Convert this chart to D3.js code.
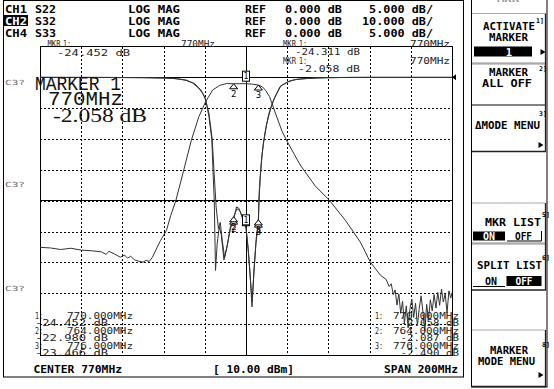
<!DOCTYPE html>
<html><head><meta charset="utf-8">
<script src="https://cdn.jsdelivr.net/npm/d3@7"></script>
<style>body{margin:0;background:#fff}svg{display:block}</style>
</head><body>
<svg id="c" width="554" height="389"></svg>
<script>
// ---------------- DATA ----------------
const headerChannels = ["CH1", "CH2", "CH4"];
const headerParams   = ["S22", "S32", "S33"];
const headerFormats  = ["LOG MAG", "LOG MAG", "LOG MAG"];
const headerRefs     = ["0.000 dB", "0.000 dB", "0.000 dB"];
const headerScales   = ["5.000 dB/", "10.000 dB/", "5.000 dB/"];

const gridFreqs = [670, 690, 710, 730, 750, 770, 790, 810, 830, 850, 870];
const gridDb5   = [5, 0, -5, -10, -15, -20, -25, -30, -35, -40, -45];

// S32 transmission (10 dB/div)
const s32Freq = [670,675,680,685,690,695,700,702,703.5,706,709,711,712.5,714,716,718,720,
  721.5,723,724.5,726,728.5,731.4,733.5,736,739.8,743.5,747.1,750.4,753.8,757.3,760.7,764,767,770,773,776,
  778,779.5,781.4,784.6,787.5,790,796.3,803.6,810.4,818.2,825.5,830.3,835.2,838,839.5,840.5,
  841.5,842.4,843.3,844.2,845.1,846,846.9,847.8,848.7,849.6,850.5,851.4,852.3,853.2,854.1,855,855.9,856.8,
  857.7,858.6,859.5,860.4,861.3,862.2,863.1,864,864.9,865.8,866.7,867.6,868.5,869.4,870];
const s32Db = [-55.1,-55.3,-55.8,-55.4,-56.0,-56.2,-56.6,-57.4,-56.4,-57.2,-58.3,-57.6,-58.6,-58.0,-59.2,-59.6,-59.9,
  -59.3,-59.7,-58.4,-56.3,-52.9,-49.6,-44.7,-39.8,-30,-20.3,-12.8,-7.9,-4.1,-2.6,-2.0,-2.087,-2.05,-2.058,-2.2,-2.49,
  -3.1,-4.2,-6.2,-12.2,-17.5,-20.8,-28.4,-35.2,-39.8,-46.3,-53.4,-59.8,-64.1,-65.5,-67.8,-66.9,
  -70.5,-68.9,-73.8,-70.2,-76.5,-72.6,-79.8,-74.1,-81.2,-75.0,-71.9,-77.8,-73.2,-80.4,-74.9,-70.8,-76.1,-82.3,
  -73.6,-78.4,-72.1,-75.7,-70.4,-74.8,-69.7,-73.9,-68.6,-72.8,-70.1,-76.3,-69.2,-71.5,-69.8];

// S22 reflection (5 dB/div)
const s22Freq = [670,700,720,730,735,738,741,744,747,749,750.4,752,753.4,754.1,754.6,755.2,756,757,758,759.3,
  761,762.5,764,765.4,766.5,768,770,771,772,772.9,773.8,774.8,776,776.3,776.8,777.5,778.3,779.5,781,783.1,
  786.5,790,793.3,800,810,830,870];
const s22Db = [0,0,-0.05,-0.1,-0.2,-0.3,-0.5,-0.9,-1.75,-2.6,-3.6,-6.3,-10.1,-16,-20,-31.3,-27,-24.2,-25.5,-29.6,
  -27,-24.5,-22.98,-21.0,-21.2,-22.5,-24.452,-27.5,-32,-37.2,-32,-27,-23.466,-19.3,-16.6,-13.5,-11,-8.5,-6,-3.9,
  -1.5,-0.8,-0.4,-0.15,-0.05,0,0];

// S33 reflection (5 dB/div)
const s33Freq = [670,720,735,741,745,748,750,752,753.6,754.6,755.5,756.6,757.5,758.5,759.6,760.8,762.5,764,765.6,767,
  768.5,770,771.2,772.2,773,773.9,775,776,776.5,777,777.8,778.6,780,782,784,787,791,795,805,820,870];
const s33Db = [0,-0.05,-0.15,-0.45,-1.0,-2.0,-3.2,-5.8,-10,-16,-21,-24.5,-23.5,-26.5,-29.2,-27.5,-24,-22.6,-21.3,-21.6,
  -22.9,-24.311,-28.5,-33,-36.4,-31,-26,-23.1,-18.8,-15.8,-12.6,-10.4,-7.6,-5.0,-3.2,-1.35,-0.6,-0.3,-0.08,0,0];

const markerFreqs = [770, 764, 776];
const markerNames = ["1", "2", "3"];
const s22MarkerDb = [-24.452, -22.980, -23.466];
const s32MarkerDb = [-2.058, -2.087, -2.490];
const s33MarkerDb = [-24.311, -22.6, -23.1];

const leftListFreq  = ["770.000MHz", "764.000MHz", "776.000MHz"];
const leftListVal   = ["-24.452 dB", "-22.980 dB", "-23.466 dB"];
const rightListFreq = ["770.000MHz", "764.000MHz", "776.000MHz"];
const rightListVal  = ["-2.058 dB", "-2.087 dB", "-2.490 dB"];

// ---------------- LAYOUT ----------------
const svg = d3.select("#c");
const gx0 = 40, gx1 = 452, gy0 = 46.5, gy1 = 355;
const x = d3.scaleLinear().domain([670, 870]).range([gx0, gx1]);
const y5 = d3.scaleLinear().domain([5, -45]).range([gy0, gy1]);
const y10 = d3.scaleLinear().domain([10, -90]).range([gy0, gy1]);

function T(str, px, py, o = {}) {
  const t = svg.append("text").attr("x", px).attr("y", py).text(str)
    .attr("font-family", o.f || "DejaVu Sans Mono")
    .attr("font-size", o.s || 11)
    .attr("font-weight", o.w || "normal")
    .attr("fill", o.c || "#000");
  if (o.len) t.attr("textLength", o.len).attr("lengthAdjust", "spacingAndGlyphs");
  if (o.a) t.attr("text-anchor", o.a);
  return t;
}

// outer screen frame
svg.append("rect").attr("x", 3.5).attr("y", 0.5).attr("width", 460).attr("height", 376.5)
  .attr("fill", "none").attr("stroke", "#000");

// header
const rows = [12.5, 24.5, 36.5];
const B = { w: "bold", s: 11 };
headerChannels.forEach((c, i) => {
  if (i === 1) {
    svg.append("rect").attr("x", 4).attr("y", 15).attr("width", 24).attr("height", 11).attr("fill", "#000");
    T(c, 5, rows[i], { ...B, len: 22, c: "#fff" });
  } else T(c, 5, rows[i], { ...B, len: 22 });
  T(headerParams[i], 35, rows[i], { ...B, len: 21 });
  T(headerFormats[i], 128, rows[i], { ...B, len: 52 });
  T("REF", 245, rows[i], { ...B, len: 21 });
  T(headerRefs[i], 285, rows[i], { ...B, len: 57 });
  T(headerScales[i], 433, rows[i], { ...B, a: "end", len: headerScales[i].length * 7.1 });
});

// graticule
const grid = svg.append("g").attr("shape-rendering", "crispEdges");
grid.append("g").attr("transform", `translate(0,${gy0})`)
  .call(d3.axisBottom(x).tickValues(gridFreqs.slice(1, -1)).tickSize(gy1 - gy0).tickFormat(""))
  .call(g => g.select(".domain").remove())
  .call(g => g.selectAll("line").attr("stroke", "#000").attr("stroke-dasharray", "2,2"));
grid.append("g").attr("transform", `translate(${gx0},0)`)
  .call(d3.axisRight(y5).tickValues(gridDb5.slice(1, -1)).tickSize(gx1 - gx0).tickFormat(""))
  .call(g => g.select(".domain").remove())
  .call(g => g.selectAll("line").attr("stroke", "#000").attr("stroke-dasharray", "2,2"));
grid.append("rect").attr("x", gx0).attr("y", gy0).attr("width", gx1 - gx0).attr("height", gy1 - gy0)
  .attr("fill", "none").attr("stroke", "#000");
grid.append("line").attr("x1", x(770)).attr("x2", x(770)).attr("y1", gy0).attr("y2", gy1).attr("stroke", "#000");
grid.append("line").attr("x1", gx0).attr("x2", gx1).attr("y1", y5(0)).attr("y2", y5(0)).attr("stroke", "#000");
grid.append("line").attr("x1", gx0).attr("x2", gx1).attr("y1", y5(-20)).attr("y2", y5(-20)).attr("stroke", "#000");
// reference position pointer
svg.append("path").attr("d", `M${gx1},${y5(0)} l4,-3 v6 z`).attr("fill", "#000");

// C3? labels
[85, 187, 290.5].forEach(v => T("C3?", 5, v, { s: 7, c: "#666", len: 20 }));

// traces
svg.append("clipPath").attr("id", "clip").append("rect")
  .attr("x", gx0).attr("y", gy0 - 2).attr("width", gx1 - gx0).attr("height", gy1 - gy0 + 4);
const tr = svg.append("g").attr("clip-path", "url(#clip)");
function trace(fr, db, ys) {
  tr.append("path").datum(d3.zip(fr, db))
    .attr("d", d3.line().x(d => x(d[0])).y(d => ys(d[1])))
    .attr("fill", "none").attr("stroke", "#333").attr("stroke-width", 1);
}
trace(s32Freq, s32Db, y10);
trace(s22Freq, s22Db, y5);
trace(s33Freq, s33Db, y5);

// markers
function markers(dbs, ys) {
  markerFreqs.forEach((f, i) => {
    const X = x(f), Y = ys(dbs[i]);
    if (i === 0) {
      svg.append("rect").attr("x", X - 3.5).attr("y", Y - 12.5).attr("width", 7).attr("height", 10)
        .attr("fill", "#fff").attr("stroke", "#000");
      T(markerNames[i], X, Y - 4.5, { s: 8, a: "middle", c: "#000" });
    } else {
      svg.append("path").attr("d", `M${X},${Y} L${X - 4},${Y + 5} L${X + 4},${Y + 5} Z`)
        .attr("fill", "#fff").attr("stroke", "#000");
      T(markerNames[i], X, Y + 13, { s: 9, a: "middle", c: "#000" });
    }
  });
}
markers(s32MarkerDb, y10);
markers(s22MarkerDb, y5);
markers(s33MarkerDb, y5);

// marker readouts (thin font)
const th = { s: 8, c: "#222" };
T("MKR", 47.5, 47, { ...th, len: 13 }); T("1:", 63, 47, { ...th, len: 8 });
T("-24.452 dB", 57, 56, { ...th, len: 73 });
T("770MHz", 181, 47, { ...th, len: 34 });
T("MKR", 283, 47, { ...th, len: 13 }); T("1:", 299, 47, { ...th, len: 8 });
T("770MHz", 410, 47, { ...th, len: 40 });
T("-24.311 dB", 295, 55, { ...th, len: 65 });
T("MKR", 283, 64, { ...th, len: 13 }); T("1:", 299, 64, { ...th, len: 8 });
T("770MHz", 410, 64, { ...th, len: 40 });
T("-2.058 dB", 298, 71.5, { ...th, len: 62 });

// big marker text
T("MARKER 1", 35, 90, { f: "Liberation Mono", s: 20, len: 86, c: "#111" });
T("770MHz", 48, 105, { f: "Liberation Mono", s: 20, len: 75, c: "#111" });
T("-2.058 dB", 53, 122, { f: "Liberation Serif", s: 19, len: 94, c: "#111" });

// marker lists
const lr = [318.5, 326, 333.5, 341, 348.5, 356];
leftListFreq.forEach((f, i) => {
  T((i + 1) + ":", 35, lr[2 * i], { ...th, len: 8 });
  T(f, 67, lr[2 * i], { ...th, len: 66 });
  T(leftListVal[i], 35, lr[2 * i + 1], { ...th, len: 73 });
});
rightListFreq.forEach((f, i) => {
  T((i + 1) + ":", 375, lr[2 * i], { ...th, len: 8 });
  T(f, 393, lr[2 * i], { ...th, len: 66 });
  T(rightListVal[i], 459, lr[2 * i + 1], { ...th, len: rightListVal[i].length * 6.5, a: "end" });
});

// bottom status
T("CENTER 770MHz", 33.5, 373, { ...B, len: 88.5 });
T("[ 10.00 dBm]", 213, 373, { ...B, len: 81 });
T("SPAN 200MHz", 384, 373, { ...B, len: 74 });

// ---------------- SOFTKEY PANEL ----------------
svg.append("rect").attr("x", 471.5).attr("y", -1).attr("width", 75.5).attr("height", 388)
  .attr("fill", "none").attr("stroke", "#000");
T("MKR", 497, 2, { w: "bold", s: 9, c: "#999", len: 22 });
const keys = [[13.5, 63.5], [63.5, 105], [105, 151.5], [203, 243.5], [243.5, 290], [330, 386.5]];
keys.forEach(([a, b]) => {
  svg.append("line").attr("x1", 472).attr("x2", 545).attr("y1", a).attr("y2", a).attr("stroke", "#aaa");
  svg.append("path").attr("d", `M472,${b} H545.5 V${a}`).attr("fill", "none").attr("stroke", "#222").attr("stroke-width", 1.3);
});
const K = { w: "bold", s: 10.5 };
const keyNum = (n, px, py) => T(n, px, py, { w: "bold", s: 6.5 });
const arrow = (px, py) => svg.append("path").attr("d", `M${px - 2.5},${py - 3} L${px + 2.5},${py} L${px - 2.5},${py + 3} Z`).attr("fill", "#000");
// key 1
keyNum("1]", 536, 23);
T("ACTIVATE", 483, 30, { ...K, len: 52 });
T("MARKER", 489, 40.5, { ...K, len: 39 });
svg.append("rect").attr("x", 474).attr("y", 46.5).attr("width", 58).attr("height", 10).attr("fill", "#000");
T("1", 509, 55.5, { ...K, c: "#fff", a: "middle" });
arrow(543, 52);
// key 2
keyNum("2]", 539, 71);
T("MARKER", 489, 75.5, { ...K, len: 39 });
T("ALL OFF", 482, 87, { ...K, len: 50 });
// key 3
keyNum("3]", 539, 116);
T("\u0394MODE MENU", 475, 129, { ...K, len: 65 });
arrow(541, 145);
// key 5
keyNum("5]", 542, 217);
T("MKR LIST", 485, 225.5, { ...K, len: 56 });
svg.append("rect").attr("x", 473).attr("y", 231.5).attr("width", 32).attr("height", 9).attr("fill", "#000");
T("ON", 489, 240, { ...K, c: "#fff", a: "middle", len: 12 });
T("OFF", 515, 240, { ...K, len: 17 });
svg.append("path").attr("d", "M507,241 H541.5 V231").attr("fill", "none").attr("stroke", "#000");
// key 6
keyNum("6]", 542, 260);
T("SPLIT LIST", 477, 268.5, { ...K, len: 65 });
T("ON", 485, 285, { ...K, len: 12 });
svg.append("path").attr("d", "M473,286.5 H505").attr("fill", "none").attr("stroke", "#000");
svg.append("rect").attr("x", 506.5).attr("y", 276).attr("width", 35).attr("height", 10).attr("fill", "#000");
T("OFF", 524, 285, { ...K, c: "#fff", a: "middle", len: 17 });
// key 8
keyNum("8]", 542, 347);
T("MARKER", 490, 353.5, { ...K, len: 38 });
T("MODE MENU", 478, 365, { ...K, len: 57 });
arrow(541, 375);
</script>
</body></html>
